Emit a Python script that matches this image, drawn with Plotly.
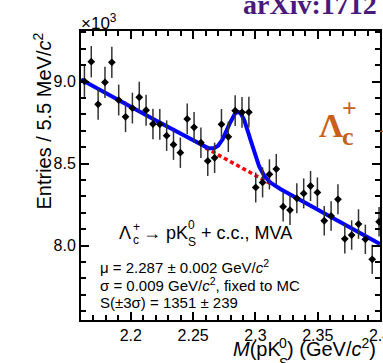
import math
import numpy as np
import plotly.graph_objects as go

# Lambda_c+ -> p K0S candidates, binned invariant mass (entries in units of 10^3)
bin_width = 0.0055            # GeV/c^2
mass_lo, mass_hi = 2.16, 2.40
entries_k = [9.001, 9.121, 8.861, 8.995, 9.117, 8.887, 8.785, 8.838, 8.904, 8.825,
             8.741, 8.739, 8.670, 8.615, 8.566, 8.772, 8.721, 8.627, 8.516, 8.535,
             8.739, 8.663, 8.822, 8.812, 8.813, 8.354, 8.385, 8.434, 8.466, 8.237,
             8.216, 8.288, 8.318, 8.363, 8.324, 8.151, 8.180, 8.282, 8.041, 8.064,
             8.131, 8.038, 7.916, 8.145]

mass_centers = mass_lo + bin_width * (np.arange(len(entries_k)) + 0.5)
entries = np.array(entries_k)
stat_err = np.sqrt(entries * 1000.0) / 1000.0

# Fit result: Gaussian signal + linear background
mu, sigma = 2.287, 0.009
n_signal = 1351               # yield within +-3 sigma
bkg_at_lo, bkg_slope = 9.013, -4.18   # 10^3 entries, per GeV/c^2

amp = n_signal / math.erf(3 / math.sqrt(2)) * bin_width / (sigma * math.sqrt(2 * math.pi)) / 1000.0

def background(m):
    return bkg_at_lo + bkg_slope * (m - mass_lo)

def total(m):
    return background(m) + amp * np.exp(-0.5 * ((m - mu) / sigma) ** 2)

m_fine = np.linspace(mass_lo, mass_hi, 700)
m_sig = np.linspace(mu - 3 * sigma, mu + 3 * sigma, 100)

# figure geometry
W, H = 383, 363
L, R, T, B = 81, 3, 31, 43
PW, PH = W - L - R, H - T - B
y_lo, y_hi = 7.546, 9.308

def fx(px):
    return (px - L) / PW

def fy(py):
    return 1 - (py - T) / PH

SANS = "Liberation Sans"
SERIF = "Liberation Serif"

fig = go.Figure()

fig.add_trace(go.Scatter(x=m_sig, y=background(m_sig), mode="lines",
                         line=dict(color="#ff0000", width=3.5, dash="4px,3px"),
                         hoverinfo="skip", showlegend=False))
fig.add_trace(go.Scatter(x=m_fine, y=total(m_fine), mode="lines",
                         line=dict(color="#0000ff", width=4),
                         hoverinfo="skip", showlegend=False))
fig.add_trace(go.Scatter(x=mass_centers, y=entries, mode="markers",
                         marker=dict(symbol="diamond", size=6, color="black"),
                         error_y=dict(type="data", array=stat_err, color="#333333",
                                      thickness=1.5, width=0),
                         showlegend=False))

annotations = []

def label(text, x_left, baseline, size, family=SANS, color="black", weight="normal"):
    annotations.append(dict(
        text=text, xref="paper", yref="paper", showarrow=False,
        x=fx(x_left), y=fy(baseline + 0.212 * size),
        xanchor="left", yanchor="bottom", borderpad=0,
        font=dict(family=family, size=size, color=color, weight=weight)))

# x10^3 multiplier
label("×10<sup>3</sup>", 80, 30, 17)

# decay label with stacked sub/superscripts
label("Λ", 118, 240, 18)
label("+", 132, 232, 12)
label("c", 132, 245, 12)
label("→ pK", 142, 240, 18)
label("0", 187, 230, 12)
label("S", 187, 247, 12)
label("+ c.c., MVA", 200, 240, 18)

# fit summary
label("μ = 2.287 ± 0.002 GeV/<i>c</i><sup>2</sup>", 99, 274, 15)
label("σ = 0.009 GeV/<i>c</i><sup>2</sup>, fixed to MC", 99, 291.5, 15)
label("S(±3σ) = 1351 ± 239", 99, 309, 15)

# x-axis title
label("<i>M</i>(pK", 232, 357, 20)
label("0", 278, 349, 14)
label("S", 278, 369, 14)
label(") (GeV/<i>c</i><sup>2</sup>)", 286, 357, 20)

# y-axis title
annotations.append(dict(
    text="Entries / 5.5 MeV/<i>c</i><sup>2</sup>", textangle=-90,
    xref="paper", yref="paper", showarrow=False,
    x=fx(42), y=fy(32), xanchor="center", yanchor="top", borderpad=0,
    font=dict(family=SANS, size=20, color="black")))

# header tag and channel label
label("arXiv:1712", 242, 15, 28, family=SERIF, color="#4a1a7a", weight="bold")
ORANGE = "#c8601a"
label("Λ", 318, 138, 34, family=SERIF, color=ORANGE, weight="bold")
label("+", 341, 118, 26, family=SERIF, color=ORANGE, weight="bold")
label("c", 341, 146, 26, family=SERIF, color=ORANGE, weight="bold")
label("→", 372, 138, 34, family=SERIF, color=ORANGE, weight="bold")

axis_common = dict(
    showline=True, linecolor="black", linewidth=2, mirror="ticks",
    ticks="inside", tickcolor="black", tickwidth=1.5, ticklen=8,
    showgrid=False, zeroline=False, ticklabeloverflow="allow",
    tickfont=dict(family=SANS, size=16, color="black"),
)

fig.update_layout(
    width=W, height=H,
    margin=dict(l=L, r=R, t=T, b=B, autoexpand=False),
    paper_bgcolor="white", plot_bgcolor="white",
    xaxis=dict(range=[mass_lo, mass_hi + 1e-7], dtick=0.05, tick0=2.2,
               minor=dict(dtick=0.01, ticklen=5, ticks="inside", tickcolor="black", tickwidth=1.5),
               **axis_common),
    yaxis=dict(range=[y_lo, y_hi], dtick=0.5, tick0=8.0, tickformat=".1f",
               minor=dict(dtick=0.1, ticklen=5, ticks="inside", tickcolor="black", tickwidth=1.5),
               **axis_common),
    annotations=annotations,
    showlegend=False,
)

fig.write_html("out.html")
